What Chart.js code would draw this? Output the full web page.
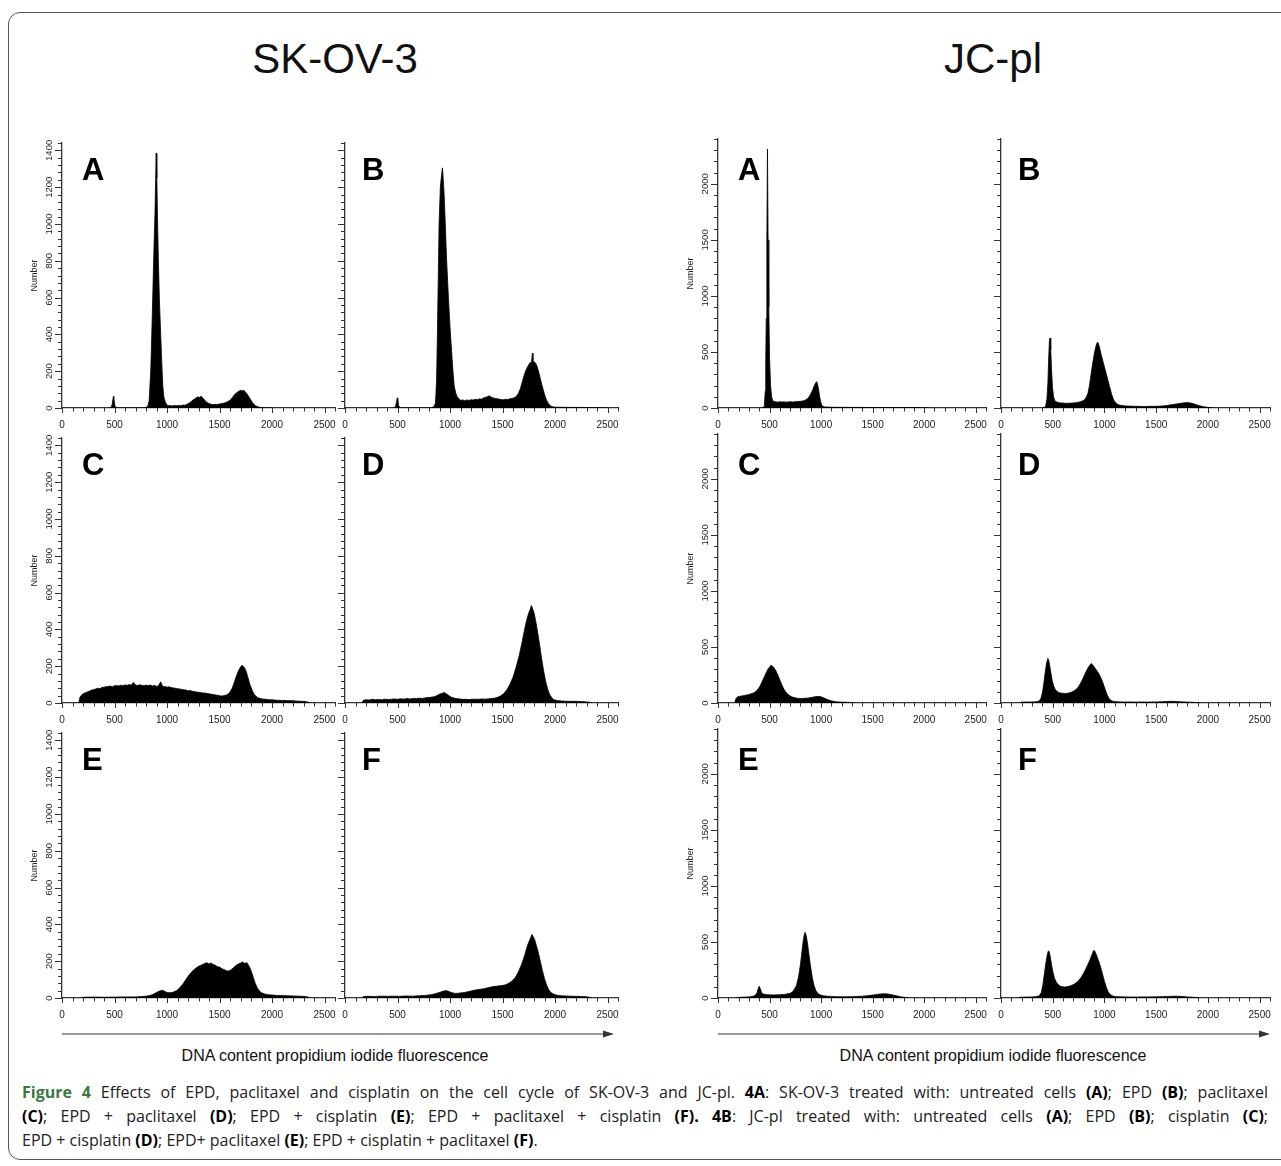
<!DOCTYPE html>
<html>
<head>
<meta charset="utf-8">
<script src="https://cdn.jsdelivr.net/npm/chart.js@4.4.0/dist/chart.umd.min.js"></script>
<style>
    body { margin: 0; width: 1281px; height: 1166px; overflow: hidden; position: relative; background: #fff;
           font-family: "Liberation Sans", Arial, sans-serif; color: #111; }
    .frame { position: absolute; left: 8px; top: 12px; width: 1300px; height: 1146px;
             border: 1.5px solid #555; border-radius: 12px; }
    .title { position: absolute; width: 400px; text-align: center; font-size: 42px; line-height: 42px; }
    .letter { position: absolute; font-weight: bold; font-size: 31px; line-height: 31px; color: #000; }
    canvas { position: absolute; }
    .axis-text { position: absolute; width: 560px; text-align: center; font-size: 16px; line-height: 18px; }
    .caption { position: absolute; left: 22px; width: 1246px; font-family: "Open Sans", sans-serif;
               font-size: 16px; line-height: 24px; color: #222; }
    .caption div { text-align: justify; text-align-last: justify; white-space: nowrap; }
    .caption div.last { text-align-last: left; }
    .caption b { color: #000; }
    .caption b.fig { color: #3a7a3e; }
</style>
</head>
<body>
<div class="frame"></div>
<svg id="arrows" width="1281" height="1166" style="position:absolute;left:0;top:0"></svg>
<script>
// ============= DATA =============

// Group titles and panel letters
const GROUP_TITLES = ['SK-OV-3', 'JC-pl'];
const PANEL_LETTERS = ['A', 'B', 'C', 'D', 'E', 'F'];
const AXIS_TEXT = 'DNA content propidium iodide fluorescence';

// Tick labels
const X_TICKS = [0, 500, 1000, 1500, 2000, 2500];
const SK_Y_TICKS = [0, 200, 400, 600, 800, 1000, 1200, 1400];
const JC_Y_TICKS = [0, 500, 1000, 1500, 2000];

// SK-OV-3 histograms, [channel, count]
const skA = [[450,0],[470,5],[480,25],[488,60],[493,65],[498,35],[505,10],[515,3],[530,0],
    [790,0],[805,4],[818,12],[830,40],[845,200],[855,400],[865,620],[875,850],[885,1050],[892,1250],[897,1385],
    [903,1250],[910,1020],[918,800],[928,580],[940,400],[950,250],[960,120],[970,60],[985,30],[1000,18],[1010,12],
    [1030,14],[1050,11],[1070,13],[1090,12],[1110,14],[1130,12],[1150,16],[1170,15],[1190,20],[1210,26],[1230,35],
    [1250,45],[1270,52],[1290,60],[1310,58],[1325,64],[1340,55],[1360,42],[1380,30],[1400,24],[1420,20],[1440,18],
    [1460,20],[1480,19],[1500,22],[1520,24],[1540,26],[1560,30],[1580,35],[1600,42],[1620,55],[1640,70],[1660,82],
    [1680,90],[1700,96],[1715,92],[1730,97],[1745,88],[1760,78],[1780,60],[1800,42],[1820,25],[1840,14],[1860,8],
    [1880,4],[1900,2],[1950,1],[2000,0]];

const skB = [[460,0],[480,5],[490,30],[497,55],[503,50],[510,15],[520,3],[540,0],
    [820,0],[835,4],[850,10],[862,30],[872,150],[880,400],[888,700],[896,1000],[908,1200],[920,1270],[928,1305],
    [934,1260],[945,1150],[955,1000],[968,800],[985,600],[1000,440],[1015,310],[1028,200],[1040,120],[1055,80],
    [1070,60],[1085,50],[1100,42],[1120,44],[1140,40],[1160,44],[1180,41],[1200,45],[1220,43],[1240,47],[1260,45],
    [1280,50],[1300,48],[1320,55],[1340,58],[1360,62],[1375,66],[1390,60],[1410,55],[1430,52],[1450,50],[1470,48],
    [1490,46],[1510,45],[1530,48],[1550,46],[1570,50],[1590,52],[1610,55],[1630,62],[1650,78],[1670,105],[1690,145],
    [1710,185],[1730,215],[1750,235],[1765,248],[1775,242],[1785,298],[1790,258],[1800,252],[1815,244],[1830,225],
    [1845,195],[1860,160],[1875,125],[1890,95],[1905,65],[1920,42],[1940,22],[1960,10],[1990,5],[2050,4],[2150,3],
    [2250,3],[2350,2],[2450,1],[2500,0]];

const skC = [[160,0],[170,30],[185,42],[200,50],[220,55],[240,60],[260,64],[280,70],[300,72],[320,76],[340,80],
    [360,78],[380,84],[400,86],[420,88],[440,90],[460,92],[480,88],[500,94],[520,95],[540,92],[560,97],[580,94],
    [600,98],[620,96],[640,100],[660,97],[680,112],[700,98],[720,95],[740,99],[760,96],[780,94],[800,97],[820,95],
    [840,98],[860,92],[880,96],[900,90],[920,94],[940,115],[960,88],[980,90],[1000,86],[1020,88],[1040,84],[1060,82],
    [1080,80],[1100,78],[1120,76],[1140,74],[1160,72],[1180,70],[1200,66],[1220,68],[1240,64],[1260,62],[1280,60],
    [1300,58],[1320,57],[1340,55],[1360,54],[1380,52],[1400,50],[1420,48],[1440,46],[1460,44],[1480,42],[1500,40],
    [1520,38],[1540,40],[1560,42],[1580,48],[1600,60],[1620,80],[1640,110],[1660,145],[1680,175],[1700,195],
    [1715,205],[1725,200],[1740,190],[1755,170],[1770,140],[1790,100],[1810,70],[1830,48],[1850,35],[1870,28],
    [1890,24],[1910,22],[1940,20],[1970,18],[2000,17],[2050,15],[2100,14],[2150,13],[2200,12],[2250,10],[2300,9],
    [2340,6],[2360,0]];

const skD = [[160,0],[175,15],[200,18],[230,16],[260,20],[290,18],[320,19],[350,17],[380,21],[410,19],[440,20],
    [470,22],[500,20],[530,23],[560,21],[590,24],[620,22],[650,25],[680,24],[710,26],[740,25],[770,28],[800,30],
    [830,32],[860,36],[880,42],[900,48],[920,52],[940,56],[955,55],[970,48],[990,40],[1010,32],[1030,28],[1060,24],
    [1090,22],[1120,20],[1150,20],[1180,19],[1210,20],[1240,21],[1270,20],[1300,22],[1330,21],[1360,22],[1390,24],
    [1420,26],[1450,30],[1480,38],[1510,50],[1540,70],[1570,100],[1600,140],[1630,195],[1660,260],[1690,340],
    [1710,400],[1730,450],[1750,490],[1765,510],[1775,530],[1785,515],[1800,490],[1815,450],[1830,400],[1850,330],
    [1870,250],[1890,180],[1910,120],[1930,75],[1950,45],[1970,28],[1990,18],[2020,13],[2060,11],[2100,10],
    [2150,9],[2200,9],[2250,8],[2300,6],[2330,4],[2350,0]];

const skE = [[180,0],[200,4],[300,5],[400,4],[500,5],[600,6],[700,6],[760,8],[800,10],[840,14],[870,20],[900,30],
    [930,38],[955,42],[980,36],[1000,30],[1030,28],[1060,32],[1090,40],[1120,55],[1150,75],[1180,100],[1210,125],
    [1240,145],[1270,160],[1300,172],[1330,180],[1360,188],[1380,192],[1400,185],[1420,190],[1440,182],[1460,178],
    [1480,170],[1500,168],[1520,160],[1540,155],[1560,150],[1580,146],[1600,150],[1620,158],[1640,168],[1660,178],
    [1680,185],[1700,190],[1720,195],[1740,188],[1760,192],[1780,175],[1800,150],[1820,115],[1840,80],[1860,55],
    [1880,38],[1900,28],[1930,22],[1960,18],[2000,16],[2050,14],[2100,13],[2150,12],[2200,11],[2250,10],[2300,9],
    [2340,6],[2360,0]];

const skF = [[160,0],[175,8],[220,9],[280,8],[340,10],[400,9],[460,10],[520,9],[580,11],[640,10],[700,12],[760,14],
    [820,18],[870,25],[910,32],[940,38],[965,40],[990,35],[1020,28],[1050,25],[1080,26],[1110,28],[1140,30],
    [1170,34],[1200,38],[1230,42],[1260,45],[1290,48],[1320,50],[1350,54],[1380,58],[1410,62],[1440,64],[1470,66],
    [1500,68],[1530,72],[1560,80],[1590,92],[1620,110],[1650,140],[1680,180],[1710,230],[1735,280],[1755,310],
    [1770,330],[1780,345],[1790,335],[1805,320],[1820,290],[1840,250],[1860,200],[1880,150],[1900,105],[1920,70],
    [1940,45],[1960,30],[1990,20],[2020,15],[2060,12],[2100,11],[2150,10],[2200,9],[2250,8],[2300,7],[2330,4],
    [2350,0]];

// JC-pl histograms, [channel, count]
const jcA = [[420,0],[440,3],[450,20],[458,150],[463,400],[468,800],[474,1500],[480,2310],[486,1500],[493,900],
    [500,450],[510,200],[520,100],[530,68],[545,58],[560,55],[580,52],[600,56],[620,53],[640,55],[660,52],
    [680,54],[700,56],[720,53],[740,55],[760,57],[780,58],[800,60],[820,62],[840,68],[860,78],[880,95],[900,125],
    [920,165],[935,200],[948,225],[958,235],[965,215],[975,170],[985,110],[995,60],[1005,30],[1015,15],[1030,10],
    [1060,8],[1100,7],[1150,6],[1200,6],[1300,5],[1400,5],[1500,4],[1600,4],[1700,4],[1800,5],[1900,4],[2000,2],
    [2050,0]];

const jcB = [[400,0],[420,5],[432,20],[444,80],[453,220],[461,450],[468,600],[474,625],[481,520],[489,330],
    [498,180],[508,100],[520,65],[535,55],[555,48],[580,45],[600,44],[620,42],[640,43],[660,42],[680,44],[700,45],
    [720,47],[740,50],[760,54],[780,60],[800,68],[820,88],[840,130],[855,200],[870,300],[890,420],[905,500],
    [920,560],[932,588],[942,575],[955,530],[970,470],[990,400],[1010,330],[1030,260],[1050,190],[1070,120],
    [1090,70],[1110,45],[1130,32],[1150,25],[1180,21],[1210,18],[1240,17],[1270,16],[1300,15],[1330,15],[1360,14],
    [1400,14],[1440,15],[1480,15],[1520,16],[1560,18],[1600,22],[1640,28],[1680,34],[1710,38],[1740,42],[1770,46],
    [1800,48],[1830,45],[1860,38],[1890,28],[1920,20],[1950,13],[1980,8],[2010,5],[2040,2],[2060,0]];

const jcC = [[160,0],[175,40],[190,55],[210,60],[230,62],[250,66],[270,70],[290,74],[310,78],[330,85],[350,92],
    [370,105],[390,125],[410,155],[430,195],[450,235],[470,275],[490,310],[505,325],[515,338],[525,332],[540,318],
    [560,290],[580,250],[600,205],[620,160],[640,122],[660,95],[680,76],[700,62],[720,54],[740,48],[760,44],
    [780,41],[800,40],[820,40],[840,42],[860,43],[880,45],[900,48],[920,52],[940,55],[960,58],[980,58],[1000,55],
    [1020,48],[1040,40],[1060,32],[1080,25],[1100,19],[1120,15],[1140,12],[1170,10],[1200,8],[1230,7],[1260,6],
    [1300,4],[1330,0]];

const jcD = [[180,0],[195,8],[230,9],[270,8],[310,10],[350,12],[370,20],[385,40],[400,90],[412,160],[424,250],
    [436,330],[446,380],[452,398],[460,385],[470,340],[482,270],[495,200],[510,150],[525,120],[545,100],[565,92],
    [585,88],[605,86],[625,85],[645,88],[665,92],[685,98],[705,108],[725,120],[745,140],[765,170],[785,205],
    [805,245],[825,285],[845,320],[860,340],[872,352],[882,345],[895,330],[910,310],[925,290],[940,270],[955,245],
    [970,215],[985,180],[1000,140],[1015,100],[1030,65],[1045,40],[1060,25],[1080,16],[1110,12],[1150,10],
    [1200,9],[1250,9],[1300,8],[1350,9],[1400,8],[1450,9],[1500,10],[1550,11],[1600,13],[1640,15],[1680,14],
    [1720,12],[1760,10],[1800,8],[1850,6],[1900,4],[1930,0]];

const jcE = [[170,0],[180,5],[220,6],[260,8],[300,10],[330,14],[360,22],[380,50],[392,90],[400,105],[410,85],
    [422,50],[440,35],[470,30],[500,28],[540,27],[580,28],[620,30],[660,34],[700,42],[730,60],[760,110],[780,180],
    [800,300],[815,420],[828,520],[838,570],[845,585],[855,560],[868,490],[882,390],[898,280],[915,180],[932,110],
    [950,65],[970,40],[990,28],[1020,20],[1060,16],[1100,14],[1150,12],[1200,11],[1250,11],[1300,12],[1350,14],
    [1400,16],[1450,20],[1500,26],[1540,32],[1580,36],[1620,38],[1660,34],[1700,26],[1740,18],[1780,10],[1820,5],
    [1860,0]];

const jcF = [[170,0],[180,6],[220,8],[260,9],[300,10],[340,12],[370,20],[390,50],[405,120],[420,220],[435,320],
    [448,390],[458,420],[466,415],[476,370],[488,300],[502,230],[518,175],[535,140],[555,118],[575,105],[595,100],
    [615,98],[635,100],[655,104],[675,110],[695,118],[715,128],[735,142],[755,160],[775,185],[795,215],[815,250],
    [835,290],[855,330],[872,370],[885,400],[895,425],[905,420],[918,395],[932,360],[948,320],[965,270],[982,210],
    [1000,150],[1018,95],[1036,55],[1055,32],[1075,20],[1100,14],[1140,11],[1200,10],[1260,9],[1320,9],[1380,10],
    [1440,10],[1500,11],[1560,12],[1620,14],[1680,16],[1720,15],[1760,13],[1800,10],[1850,7],[1900,4],[1930,0]];

// ============= LAYOUT =============

const YW = 44;   // room left of the y axis
const PT = 4;    // room above the plot
const PR = 8;    // room right of the plot
const XH = 28;   // room below the x axis
const ROW_STEP = 295;

// Draw tick marks, rotated y labels and "Number" title
const panelAxes = {
    id: 'panelAxes',
    afterDraw(chart, args, opts) {
        const { ctx, chartArea, scales: { x, y } } = chart;
        ctx.save();
        ctx.strokeStyle = '#333';
        ctx.lineWidth = 1;
        ctx.beginPath();
        x.ticks.forEach(t => {
            const px = Math.round(x.getPixelForValue(t.value)) + 0.5;
            const len = t.value % 500 === 0 ? 5 : 3.5;
            ctx.moveTo(px, chartArea.bottom);
            ctx.lineTo(px, chartArea.bottom + len);
        });
        y.ticks.forEach(t => {
            const py = Math.round(y.getPixelForValue(t.value)) + 0.5;
            const len = t.value % opts.major === 0 ? 7 : 4;
            ctx.moveTo(chartArea.left - len, py);
            ctx.lineTo(chartArea.left, py);
        });
        ctx.stroke();

        if (opts.labels) {
            ctx.fillStyle = '#222';
            ctx.font = '9.5px "Liberation Sans", Arial';
            ctx.textAlign = 'center';
            ctx.textBaseline = 'middle';
            opts.labels.forEach(v => {
                ctx.save();
                ctx.translate(chartArea.left - 13, y.getPixelForValue(v));
                ctx.rotate(-Math.PI / 2);
                ctx.fillText(String(v), 0, 0);
                ctx.restore();
            });
            ctx.font = '9px "Liberation Sans", Arial';
            ctx.translate(chartArea.left - 27, (chartArea.top + chartArea.bottom) / 2);
            ctx.rotate(-Math.PI / 2);
            ctx.fillText('Number', 0, 0);
        }
        ctx.restore();
    }
};

// Build one histogram panel
function makePanel(pts, left, right, top, bottom, yMax, yStep, yMajor, yLabels) {
    const canvas = document.createElement('canvas');
    canvas.width = right - left + YW + PR;
    canvas.height = bottom - top + PT + XH;
    canvas.style.left = (left - YW) + 'px';
    canvas.style.top = (top - PT) + 'px';
    document.body.appendChild(canvas);

    new Chart(canvas, {
        type: 'line',
        data: {
            datasets: [{
                data: pts.map(([x, y]) => ({ x, y })),
                borderColor: '#000',
                backgroundColor: '#000',
                borderWidth: 0.8,
                pointRadius: 0,
                tension: 0,
                fill: 'origin'
            }]
        },
        options: {
            responsive: false,
            animation: false,
            layout: { padding: { left: 0, top: PT, right: PR, bottom: 0 } },
            plugins: {
                legend: { display: false },
                tooltip: { enabled: false },
                panelAxes: { major: yMajor, labels: yLabels }
            },
            scales: {
                x: {
                    type: 'linear',
                    min: 0,
                    max: 2600,
                    afterFit: s => { s.height = XH; },
                    grid: { display: false, drawTicks: true, tickLength: 5 },
                    border: { display: true, color: '#333', width: 1.3 },
                    ticks: {
                        stepSize: 100,
                        autoSkip: false,
                        maxRotation: 0,
                        padding: 6,
                        color: '#222',
                        font: { family: '"Liberation Sans", Arial', size: 10 },
                        callback: v => X_TICKS.includes(v) ? String(v) : ''
                    }
                },
                y: {
                    min: 0,
                    max: yMax,
                    afterFit: s => { s.width = YW; },
                    grid: { display: false },
                    border: { display: true, color: '#333', width: 1.3 },
                    ticks: { display: false, stepSize: yStep, maxTicksLimit: 200 }
                }
            }
        },
        plugins: [panelAxes]
    });
}

function addDiv(cls, text, left, top) {
    const d = document.createElement('div');
    d.className = cls;
    d.textContent = text;
    d.style.left = left + 'px';
    d.style.top = top + 'px';
    document.body.appendChild(d);
}

// ============= RENDER =============

const skData = [skA, skB, skC, skD, skE, skF];
const jcData = [jcA, jcB, jcC, jcD, jcE, jcF];

// column y-axis positions and plot right edges
const skCols = [[62, 335], [345, 618]];
const jcCols = [[718, 986], [1001, 1270]];

skData.forEach((pts, i) => {
    const col = i % 2, row = Math.floor(i / 2);
    const [l, r] = skCols[col];
    const bottom = 408 + row * ROW_STEP;
    makePanel(pts, l, r, 143 + row * ROW_STEP, bottom, 1440, 40, 200, col === 0 ? SK_Y_TICKS : null);
    addDiv('letter', PANEL_LETTERS[i], l + (col === 0 ? 20 : 17), 154 + row * ROW_STEP);
});

jcData.forEach((pts, i) => {
    const col = i % 2, row = Math.floor(i / 2);
    const [l, r] = jcCols[col];
    const bottom = 408 + row * ROW_STEP;
    makePanel(pts, l, r, 139 + row * ROW_STEP, bottom, 2400, 100, 500, col === 0 ? JC_Y_TICKS : null);
    addDiv('letter', PANEL_LETTERS[i], l + (col === 0 ? 20 : 17), 154 + row * ROW_STEP);
});

// Group titles
addDiv('title', GROUP_TITLES[0], 335 - 200, 38);
addDiv('title', GROUP_TITLES[1], 993 - 200, 38);

// Axis arrows and their text
const svg = document.getElementById('arrows');
function arrow(x1, x2, y) {
    svg.innerHTML += `<line x1="${x1}" y1="${y}" x2="${x2 - 8}" y2="${y}" stroke="#333" stroke-width="1.2"/>` +
        `<polygon points="${x2},${y} ${x2 - 11},${y - 3.5} ${x2 - 11},${y + 3.5}" fill="#333"/>`;
}
arrow(62, 614, 1034);
arrow(718, 1270, 1034);
addDiv('axis-text', AXIS_TEXT, 335 - 280, 1047);
addDiv('axis-text', AXIS_TEXT, 993 - 280, 1047);

// Caption
const cap = document.createElement('div');
cap.className = 'caption';
cap.style.top = '1080px';
cap.innerHTML =
    '<div><b class="fig">Figure 4</b> Effects of EPD, paclitaxel and cisplatin on the cell cycle of SK-OV-3 and JC-pl. <b>4A</b>: SK-OV-3 treated with: untreated cells <b>(A)</b>; EPD <b>(B)</b>; paclitaxel</div>' +
    '<div><b>(C)</b>; EPD + paclitaxel <b>(D)</b>; EPD + cisplatin <b>(E)</b>; EPD + paclitaxel + cisplatin <b>(F). 4B</b>: JC-pl treated with: untreated cells <b>(A)</b>; EPD <b>(B)</b>; cisplatin <b>(C)</b>;</div>' +
    '<div class="last">EPD + cisplatin <b>(D)</b>; EPD+ paclitaxel <b>(E)</b>; EPD + cisplatin + paclitaxel <b>(F)</b>.</div>';
document.body.appendChild(cap);
</script>
</body>
</html>
